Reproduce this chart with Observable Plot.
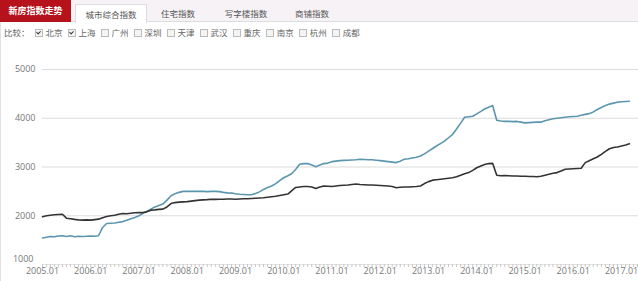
<!DOCTYPE html>
<html><head><meta charset="utf-8">
<script src="https://cdn.jsdelivr.net/npm/d3@7"></script>
<script src="https://cdn.jsdelivr.net/npm/@observablehq/plot@0.6"></script>
<style>
body{margin:0;background:#fff;font-family:"Noto Sans CJK SC","Open Sans",sans-serif;}
#wrap{position:relative;width:638px;height:281px;overflow:hidden;background:#fff;}
#topbar{position:absolute;left:0;top:0;width:638px;height:21px;background:#f6f2f6;border-bottom:1px solid #ddd;}
#title{position:absolute;left:0;top:0;width:71px;height:22px;background:#b5121b;color:#fff;font-size:9px;font-weight:bold;line-height:22px;text-align:center;}
.tab{position:absolute;top:4px;height:18px;line-height:18px;font-size:8.5px;color:#555;text-align:center;}
.tab.active{background:#fff;border:1px solid #ddd;border-bottom:none;}
#cmp{position:absolute;left:4px;top:25px;font-size:8.5px;color:#666;white-space:nowrap;height:14px;line-height:14px;}
.cb{display:inline-block;width:6px;height:6px;border:1px solid #bbb;background:#f4f4f4;vertical-align:-1px;margin:0 3px 0 5px;position:relative;}
.cb.on:after{content:"";position:absolute;left:1px;top:0px;width:2px;height:3px;border:solid #333;border-width:0 1px 1px 0;transform:rotate(45deg);}
#lb{position:absolute;left:0;top:22px;width:1px;height:259px;background:#e2e2e2;}
#chart{position:absolute;left:0;top:45px;}
</style></head>
<body><div id="wrap">
<div id="topbar"></div>
<div id="title">新房指数走势</div>
<div class="tab active" style="left:75px;width:70px">城市综合指数</div>
<div class="tab" style="left:150px;width:56px">住宅指数</div>
<div class="tab" style="left:216px;width:60px">写字楼指数</div>
<div class="tab" style="left:284px;width:56px">商铺指数</div>
<div id="cmp"></div>
<div id="lb"></div>
<div id="chart"></div>
</div>
<script>
const cities = ["北京","上海","广州","深圳","天津","武汉","重庆","南京","杭州","成都"];
const checked = ["北京","上海"];
const startMonth = "2005-01";
const beijing = [
1980,2000,2010,2020,2025,2030,
1950,1940,1925,1915,1910,1915,1910,1920,1930,
1960,1985,2000,2010,2030,2045,
2040,2050,2060,2065,2065,2080,
2115,2120,2130,2135,2180,
2250,2270,2280,2285,2290,
2300,2310,2320,2325,2330,2340,
2335,2340,2340,2345,2345,2340,2345,2350,2350,2355,2360,
2365,2370,2380,2390,2400,2415,2430,2445,
2510,2580,2590,2600,2600,2590,
2560,2590,2610,2605,2600,
2610,2620,2625,2630,2640,2650,
2640,2635,2630,2630,2625,2620,2615,
2610,2600,2575,2585,2590,2590,2595,2600,2610,
2660,2700,2730,2740,2750,2760,2770,2780,
2800,2830,2860,2885,2930,2985,3020,3050,3070,3075,
2830,2820,2825,2820,2815,2815,2810,2810,2805,2805,
2800,2810,2830,2850,2870,2885,2920,2955,2960,2965,2970,2975,
3090,3130,3170,3205,3260,3320,3375,3400,3410,3430,3450,3475];
const shanghai = [
1545,1560,1575,1570,1585,1590,
1575,1590,1570,1580,1575,1580,1585,1580,1590,
1760,1840,1845,1850,1865,1880,
1910,1940,1965,2000,2050,2090,
2135,2180,2210,2240,2320,
2410,2450,2480,2500,2500,
2500,2500,2500,2500,2495,2500,
2500,2495,2480,2470,2465,2450,2440,2435,2430,2430,2455,
2490,2540,2580,2610,2660,2720,2780,2820,
2860,2950,3055,3070,3070,3040,
3005,3040,3070,3080,3110,
3120,3130,3135,3140,3145,3150,
3160,3155,3150,3150,3140,3130,3120,
3110,3100,3090,3120,3160,3170,3185,3200,3225,
3270,3325,3380,3430,3480,3530,3600,3665,
3780,3900,4020,4030,4040,4090,4140,4190,4225,4260,
3960,3945,3935,3935,3930,3935,3920,3905,3910,3915,
3920,3920,3950,3970,3990,4000,4010,4020,4030,4035,4040,4060,
4080,4095,4130,4180,4220,4260,4290,4310,4330,4340,4345,4350];
const yTicks = [2000,3000,4000,5000];
const yBottomTick = [1000];
const gridValues = [2000,3000,4000,5000];

// comparison row
const cmp = document.getElementById("cmp");
cmp.innerHTML = "比较：" + cities.map(c =>
  `<span class="cb${checked.includes(c) ? " on" : ""}"></span>${c}`).join("");

const t0 = d3.utcParse("%Y-%m")(startMonth);
const months = d3.range(beijing.length).map(i => d3.utcMonth.offset(t0, i));
const data = [
  ...shanghai.map((v, i) => ({date: months[i], value: v, city: "上海"})),
  ...beijing.map((v, i) => ({date: months[i], value: v, city: "北京"}))
];

const chart = Plot.plot({
  width: 638, height: 236,
  marginLeft: 42, marginRight: 0, marginTop: 24, marginBottom: 17,
  style: {fontFamily: "'Open Sans', sans-serif", fontSize: "9px", color: "#777", background: "transparent"},
  x: {type: "utc", domain: [t0, new Date(Date.UTC(2017, 4, 9))], label: null},
  y: {domain: [1000, 5000], label: null},
  color: {domain: ["北京","上海"], range: ["#333333","#5b96ae"]},
  marks: [
    Plot.ruleY(gridValues, {stroke: "#dcdcdc", strokeWidth: 1}),
    Plot.ruleY([1000], {stroke: "#e4e4e4"}),
    Plot.axisX({ticks: d3.utcMonth.every(1), tickSize: 3, tickFormat: () => "", stroke: "#c8c8c8", label: null}),
    Plot.axisX({ticks: d3.utcYear.every(1), tickSize: 0, tickPadding: 3, tickFormat: d3.utcFormat("%Y.%m"), fill: "#777", fontSize: 9, label: null}),
    Plot.axisY({ticks: yTicks, tickSize: 0, tickPadding: 7, tickFormat: d => String(d), fill: "#777", fontSize: 9, label: null}),
    Plot.axisY({ticks: yBottomTick, tickSize: 0, tickPadding: 9, tickFormat: d => String(d), fill: "#777", fontSize: 9, dy: -5, label: null}),
    Plot.lineY(data, {x: "date", y: "value", z: "city", stroke: "city", strokeWidth: 1.6, curve: "linear"})
  ]
});
document.getElementById("chart").appendChild(chart);
</script>
</body></html>
